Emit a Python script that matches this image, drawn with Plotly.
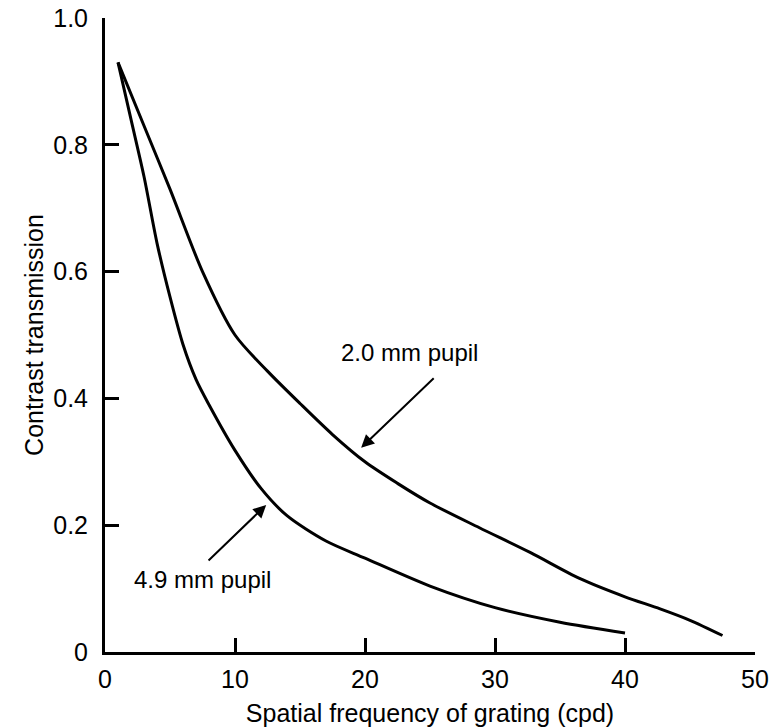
import plotly.graph_objects as go

# 2.0 mm pupil curve
freq_2mm = [1, 3, 5, 7.5, 10, 12.5, 15, 17.5, 20, 22.5, 25, 28.8, 32.7, 36.5, 40, 42.7, 45, 47.5]
ct_2mm = [0.93, 0.83, 0.73, 0.60, 0.50, 0.443, 0.392, 0.343, 0.300, 0.266, 0.235, 0.196, 0.157, 0.116, 0.087, 0.068, 0.05, 0.026]

# 4.9 mm pupil curve
freq_49mm = [1, 2, 3, 4, 5, 6, 7, 8, 10, 12, 14, 17, 20, 25, 30, 35, 40]
ct_49mm = [0.93, 0.84, 0.75, 0.645, 0.56, 0.485, 0.43, 0.39, 0.318, 0.258, 0.215, 0.175, 0.148, 0.104, 0.07, 0.047, 0.03]

x_ticks = [0, 10, 20, 30, 40, 50]
y_ticks = [0, 0.2, 0.4, 0.6, 0.8, 1.0]
y_ticklabels = ["0", "0.2", "0.4", "0.6", "0.8", "1.0"]

FONT = "Liberation Sans, Arial, sans-serif"

fig = go.Figure()
fig.add_trace(go.Scatter(x=freq_2mm, y=ct_2mm, mode="lines",
                         line=dict(color="black", width=3, shape="spline", smoothing=0.8),
                         showlegend=False))
fig.add_trace(go.Scatter(x=freq_49mm, y=ct_49mm, mode="lines",
                         line=dict(color="black", width=3, shape="spline", smoothing=0.8),
                         showlegend=False))

# labels and arrows
fig.add_annotation(x=23.4, y=0.473, text="2.0 mm pupil", showarrow=False,
                   font=dict(family=FONT, size=24, color="black"))
fig.add_annotation(x=19.7, y=0.322, ax=25.4, ay=0.434, axref="x", ayref="y",
                   text="", showarrow=True, arrowhead=2, arrowsize=1.3, arrowwidth=2,
                   arrowcolor="black")
fig.add_annotation(x=7.5, y=0.114, text="4.9 mm pupil", showarrow=False,
                   font=dict(family=FONT, size=24, color="black"))
fig.add_annotation(x=12.4, y=0.232, ax=7.85, ay=0.142, axref="x", ayref="y",
                   text="", showarrow=True, arrowhead=2, arrowsize=1.3, arrowwidth=2,
                   arrowcolor="black")

fig.update_xaxes(range=[0, 50], tickvals=x_ticks, ticks="inside", ticklen=14, tickwidth=3,
                 tickcolor="black", showline=True, linewidth=3, linecolor="black",
                 showgrid=False, zeroline=False, automargin=False,
                 ticklabelstandoff=3,
                 tickfont=dict(family=FONT, size=25, color="black"),
                 title=dict(text="Spatial frequency of grating (cpd)", standoff=13,
                            font=dict(family=FONT, size=25, color="black")))
fig.update_yaxes(range=[0, 1], tickvals=y_ticks, ticktext=y_ticklabels, ticks="inside",
                 ticklen=14, tickwidth=3, tickcolor="black", showline=True, linewidth=3,
                 linecolor="black", showgrid=False, zeroline=False, automargin=False,
                 ticklabelstandoff=9,
                 tickfont=dict(family=FONT, size=25, color="black"),
                 title=dict(text="Contrast transmission", standoff=3,
                            font=dict(family=FONT, size=25, color="black")))

fig.update_layout(width=778, height=727, margin=dict(l=105, r=23, t=18, b=75),
                  plot_bgcolor="white", paper_bgcolor="white")

fig.write_html("out.html")
